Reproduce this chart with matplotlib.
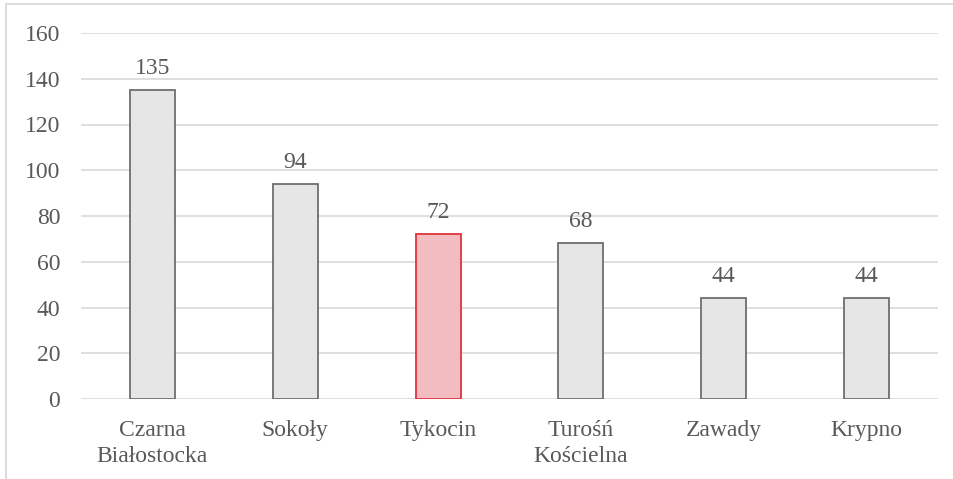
import matplotlib.pyplot as plt
from matplotlib.patches import Rectangle

categories = ['Czarna\nBiałostocka', 'Sokoły', 'Tykocin', 'Turośń\nKościelna', 'Zawady', 'Krypno']
values = [135, 94, 72, 68, 44, 44]
highlight = 'Tykocin'

plt.rcParams['font.family'] = ['Liberation Serif', 'DejaVu Serif']
text_col = '#595959'

fig = plt.figure(figsize=(9.54, 4.79), dpi=100)
W, H = 954, 479
ax = fig.add_axes([81 / W, 1 - 399 / H, (938 - 81) / W, (399 - 33) / H])

faces = ['#F2BCC0' if c == highlight else '#E6E6E6' for c in categories]
edges = ['#E0333C' if c == highlight else '#6E6E6E' for c in categories]
x = range(len(categories))
bars = ax.bar(x, values, width=0.315, color=faces, edgecolor=edges, linewidth=1.3, zorder=3)

for b, v in zip(bars, values):
    ax.annotate(str(v), (b.get_x() + b.get_width() / 2, v), xytext=(0, 8),
                textcoords='offset points', ha='center', va='bottom',
                fontsize=17, color=text_col)

ax.set_xlim(-0.5, len(categories) - 0.5)
ax.set_ylim(0, 160)
ax.set_yticks(range(0, 161, 20))
ax.set_xticks(list(x))
ax.set_xticklabels(categories, fontsize=17, color=text_col, linespacing=1.35)
ax.tick_params(axis='y', labelsize=17, labelcolor=text_col, length=0, pad=15)
ax.tick_params(axis='x', length=0, pad=15)
ax.grid(axis='y', color='#D9D9D9', linewidth=1.2, zorder=0)
for s in ax.spines.values():
    s.set_visible(False)

# outer chart border (top and left visible)
fig.patches.append(Rectangle((6 / W, -0.1), 1.2, 1 - 4 / H + 0.1, transform=fig.transFigure,
                             fill=False, edgecolor='#D9D9D9', linewidth=1.3))

fig.savefig('out.png', dpi=100)
